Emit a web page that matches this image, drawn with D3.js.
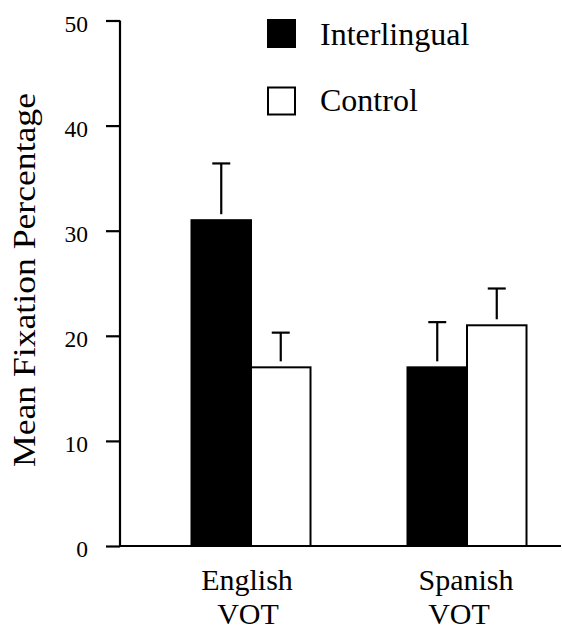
<!DOCTYPE html>
<html>
<head>
<meta charset="utf-8">
<script src="https://cdn.jsdelivr.net/npm/d3@7"></script>
<style>
  html, body { margin: 0; padding: 0; background: #fff; }
  svg { display: block; }
</style>
</head>
<body>
<svg id="chart" width="562" height="631"></svg>
<script>
// ---- data ----
const categories = ["English", "Spanish"];
const categoryLines = [["English", "VOT"], ["Spanish", "VOT"]];
const seriesNames = ["Interlingual", "Control"];
const interlingualMeans = [31.0, 17.0];
const interlingualErrors = [5.4, 4.3];
const controlMeans = [17.0, 21.0];
const controlErrors = [3.3, 3.5];
const yTicks = [0, 10, 20, 30, 40, 50];
const yTitle = "Mean Fixation Percentage";

const FONT = "'Liberation Serif', 'Times New Roman', Times, 'DejaVu Serif', serif";
// label line offsets from group centre (layout only)
const labelShift = [[-4, -3], [-1, -8]];

const seriesData = [
  { name: seriesNames[0], means: interlingualMeans, errs: interlingualErrors, fill: "#000" },
  { name: seriesNames[1], means: controlMeans, errs: controlErrors, fill: "#fff" }
];

const svg = d3.select("#chart").style("font-family", FONT);

const y = d3.scaleLinear().domain([0, 50]).range([546, 20.5]);
const x0 = d3.scaleBand().domain(categories).range([143, 575]).padding(0);
const x1 = d3.scaleBand().domain(seriesNames).range([0, x0.bandwidth()])
  .paddingInner(0).paddingOuter(0.815);

// bars
const groups = svg.append("g").selectAll("g")
  .data(categories).join("g")
  .attr("transform", d => `translate(${x0(d)},0)`);

groups.each(function(cat, ci) {
  const g = d3.select(this);
  seriesData.forEach(s => {
    const bx = x1(s.name);
    const bw = x1.bandwidth();
    const m = s.means[ci], e = s.errs[ci];
    g.append("rect")
      .attr("x", bx).attr("y", y(m))
      .attr("width", bw).attr("height", y(0) - y(m))
      .attr("fill", s.fill).attr("stroke", "#000").attr("stroke-width", 2);
    const cx = bx + bw / 2;
    g.append("line")
      .attr("x1", cx).attr("x2", cx)
      .attr("y1", y(m) - 6).attr("y2", y(m + e))
      .attr("stroke", "#000").attr("stroke-width", 2.2);
    g.append("line")
      .attr("x1", cx - 9).attr("x2", cx + 9)
      .attr("y1", y(m + e)).attr("y2", y(m + e))
      .attr("stroke", "#000").attr("stroke-width", 2.2);
  });
});

// y axis
const yAxis = d3.axisLeft(y).tickValues(yTicks).tickSize(14).tickPadding(18)
  .tickFormat(d3.format("d"));
const yg = svg.append("g").attr("transform", "translate(120,0)").call(yAxis);
yg.attr("font-family", null).attr("font-size", null);
yg.select(".domain").attr("d", `M0,${y(50)}V${y(0)}`).attr("stroke", "#000").attr("stroke-width", 2.2);
yg.selectAll(".tick line").attr("stroke", "#000").attr("stroke-width", 2.2);
yg.selectAll(".tick text")
  .attr("dy", null).attr("y", 10.5)
  .attr("fill", "#000")
  .style("font-family", FONT).style("font-size", "23.5px");

// x axis baseline
svg.append("line")
  .attr("x1", 120).attr("x2", 561)
  .attr("y1", y(0)).attr("y2", y(0))
  .attr("stroke", "#000").attr("stroke-width", 2.2);

// x category labels
categories.forEach((c, i) => {
  const cx = x0(c) + x0.bandwidth() / 2;
  const t = svg.append("text").attr("text-anchor", "middle")
    .style("font-family", FONT).style("font-size", "30px").attr("fill", "#000");
  t.append("tspan").attr("x", cx + labelShift[i][0]).attr("y", 589.5).text(categoryLines[i][0]);
  t.append("tspan").attr("x", cx + labelShift[i][1]).attr("y", 623.5).text(categoryLines[i][1]);
});

// y title
svg.append("text")
  .attr("transform", "translate(35,280) rotate(-90)")
  .attr("text-anchor", "middle")
  .style("font-family", FONT)
  .style("font-size", "31px")
  .attr("fill", "#000")
  .attr("textLength", 374)
  .attr("lengthAdjust", "spacingAndGlyphs")
  .text(yTitle);

// legend
const legendRows = [{ sy: 20, ty: 45 }, { sy: 87.5, ty: 110.5 }];
seriesData.forEach((s, i) => {
  svg.append("rect")
    .attr("x", 268).attr("y", legendRows[i].sy)
    .attr("width", 27).attr("height", 27)
    .attr("fill", s.fill).attr("stroke", "#000").attr("stroke-width", 2);
  svg.append("text")
    .attr("x", 320).attr("y", legendRows[i].ty)
    .style("font-family", FONT)
    .style("font-size", "32px")
    .attr("fill", "#000")
    .text(s.name);
});
</script>
</body>
</html>
